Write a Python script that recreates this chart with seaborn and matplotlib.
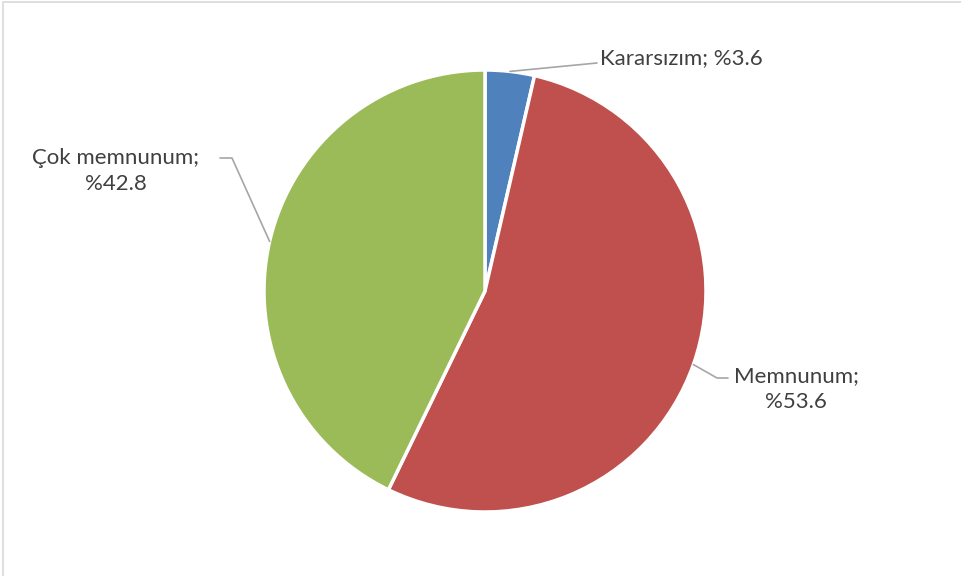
import numpy as np
import matplotlib
matplotlib.use("Agg")
import matplotlib.pyplot as plt
import seaborn as sns

# slices, clockwise from 12 o'clock
categories = ["Kararsızım", "Memnunum", "Çok memnunum"]
shares = [3.6, 53.6, 42.8]
label_texts = ["Kararsızım; %3.6", "Memnunum;\n%53.6", "Çok memnunum;\n%42.8"]
colors = ["#4F81BD", "#C0504D", "#9BBB59"]

sns.set_style("white")
plt.rcParams["font.family"] = ["Lato", "DejaVu Sans"]

W, H = 961, 576
fig = plt.figure(figsize=(W / 100, H / 100), dpi=100)

# pie centre (485, 291) px, radius 221 px
cx, cy, r = 485, 291, 221
ax = fig.add_axes([(cx - r) / W, (H - cy - r) / H, 2 * r / W, 2 * r / H])
wedges, _ = ax.pie(shares, colors=colors, startangle=90, counterclock=False,
                   radius=1, wedgeprops=dict(edgecolor="white", linewidth=2.5))
ax.set_xlim(-1, 1)
ax.set_ylim(-1, 1)
ax.set_aspect("equal")
ax.axis("off")

def px(x, y):
    # pixel position -> data coords of the pie axes
    return (x - cx) / r, (cy - y) / r

# leader elbow / end points and text anchors (pixels)
layout = [
    dict(pts=[(597, 63)], text=(600, 58), ha="left"),
    dict(pts=[(717, 378), (728, 378)], text=(796, 389), ha="center"),
    dict(pts=[(232, 158), (220, 158)], text=(116, 171), ha="center"),
]

for w, txt, lay in zip(wedges, label_texts, layout):
    ang = np.deg2rad((w.theta1 + w.theta2) / 2)
    xs = [np.cos(ang)]
    ys = [np.sin(ang)]
    for p in lay["pts"]:
        dx, dy = px(*p)
        xs.append(dx)
        ys.append(dy)
    ax.plot(xs, ys, color="#A6A6A6", lw=1.2, clip_on=False)
    tx, ty = px(*lay["text"])
    ax.text(tx, ty, txt, ha=lay["ha"], va="center", fontsize=16,
            color="#404040", linespacing=1.4, multialignment="center")

# outer chart border
fig.patches.append(plt.Rectangle((3 / W, -0.01), 1.0, 1 - 2 / H + 0.01,
                                 transform=fig.transFigure, fill=False,
                                 edgecolor="#D9D9D9", lw=1.2))

fig.savefig("out.png", dpi=100)
